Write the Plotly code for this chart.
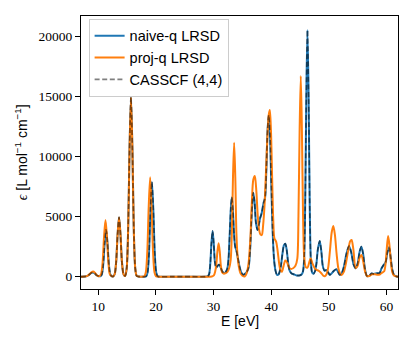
import plotly.graph_objects as go

# naive-q LRSD (blue)
naive_e = [
    7.0, 7.6, 8.0, 8.4, 8.8, 9.1, 9.4, 9.7, 10.0, 10.35, 10.6, 10.85, 11.1, 11.35, 11.6,
    11.85, 12.1, 12.35, 12.6, 12.85, 13.1, 13.35, 13.6, 13.85, 14.1, 14.35, 14.5, 14.67,
    14.92, 15.17, 15.42, 15.67, 15.92, 16.17, 16.42, 16.67, 17.0, 17.5, 18.0, 18.3, 18.55,
    18.8, 19.05, 19.3, 19.55, 19.8, 20.05, 20.3, 20.8, 23.0, 26.0, 28.6, 29.0, 29.23,
    29.43, 29.63, 29.83, 30.03, 30.23, 30.45, 30.7, 30.95, 31.2, 31.5, 31.8, 32.1, 32.4,
    32.6, 32.8, 33.0, 33.17, 33.35, 33.55, 33.75, 33.95, 34.2, 34.5, 34.8, 35.15, 35.5,
    35.8, 36.07, 36.35, 36.6, 36.87, 37.1, 37.35, 37.62, 37.85, 38.07, 38.35, 38.66,
    38.94, 39.15, 39.38, 39.58, 39.78, 40.0, 40.25, 40.5, 40.75, 41.0, 41.3, 41.65,
    41.95, 42.2, 42.45, 42.7, 42.95, 43.2, 43.5, 43.9, 44.4, 44.9, 45.3, 45.5, 45.69,
    45.89, 46.09, 46.29, 46.49, 46.69, 46.89, 47.1, 47.35, 47.6, 47.85, 48.1, 48.42,
    48.7, 48.95, 49.25, 49.58, 49.9, 50.16, 50.5, 50.9, 51.3, 51.6, 51.9, 52.25, 52.65,
    53.05, 53.5, 53.9, 54.3, 54.66, 55.0, 55.35, 55.65, 55.95, 56.25, 56.6, 57.0, 57.4,
    57.8, 58.3, 58.8, 59.15, 59.5, 59.85, 60.15, 60.45, 60.7, 61.0, 61.3, 61.7, 62.0,
]
naive_eps = [
    0, 5, 40, 160, 320, 350, 270, 120, 50, 30, 170, 970, 2760, 3900, 2760,
    970, 170, 30, 30, 220, 1230, 3500, 4950, 3500, 1230, 240, 100, 70,
    660, 3720, 10570, 14950, 10570, 3720, 660, 60, 5, 0, 0, 30, 350,
    1960, 5580, 7890, 5580, 1960, 350, 30, 0, 0, 0, 0, 30, 210,
    1060, 2770, 3810, 2770, 1250, 750, 900, 1000, 800, 450, 300, 380, 700,
    1500, 3500, 5700, 6620, 5600, 3600, 2500, 2200, 1600, 850, 350, 150, 260,
    430, 750, 2300, 5000, 7000, 6300, 4500, 3890, 4300, 4860, 5300, 6110,
    6600, 8800, 12300, 13475, 12000, 8000, 3800, 1400, 500, 150, 200, 800,
    1900, 2600, 2750, 2200, 1100, 500, 280, 200, 100, 100, 200, 400, 1250,
    5700, 14930, 20560, 14930, 5700, 1250, 350, 250, 450, 1100, 2300, 2975,
    2100, 900, 500, 560, 350, 150, 280, 500, 610, 400, 150, 300, 900,
    1900, 2560, 2000, 1000, 700, 1100, 2100, 2500, 1900, 700, 60, 60, 270,
    230, 280, 300, 700, 970, 1200, 2000, 2450, 1700, 600, 150, 20, 0,
]

# proj-q LRSD (orange)
proj_e = [
    7.0, 7.6, 8.0, 8.4, 8.8, 9.1, 9.4, 9.7, 10.0, 10.25, 10.5, 10.75, 11.0, 11.25, 11.5,
    11.75, 12.0, 12.3, 12.6, 12.85, 13.1, 13.35, 13.6, 13.85, 14.1, 14.35, 14.5, 14.67,
    14.92, 15.17, 15.42, 15.67, 15.92, 16.17, 16.42, 16.67, 17.0, 17.5, 18.0, 18.25,
    18.5, 18.75, 19.0, 19.25, 19.5, 19.75, 20.0, 20.5, 23.0, 26.0, 29.0, 29.7, 30.05,
    30.27, 30.47, 30.67, 30.87, 31.07, 31.27, 31.5, 31.8, 32.1, 32.4, 32.7, 32.97,
    33.17, 33.37, 33.57, 33.77, 33.97, 34.17, 34.4, 34.7, 35.0, 35.4, 35.75, 36.07,
    36.4, 36.65, 36.9, 37.16, 37.4, 37.65, 37.9, 38.15, 38.37, 38.6, 38.85, 39.1,
    39.35, 39.58, 39.76, 39.95, 40.15, 40.35, 40.55, 40.85, 41.1, 41.35, 41.6, 41.85,
    42.15, 42.45, 42.75, 43.05, 43.4, 43.8, 44.2, 44.53, 44.73, 44.93, 45.13, 45.33,
    45.53, 45.73, 46.0, 46.3, 46.6, 46.86, 47.15, 47.55, 47.85, 48.2, 48.7, 49.0, 49.3,
    49.6, 49.9, 50.2, 50.5, 50.78, 51.05, 51.35, 51.65, 51.95, 52.2, 52.6, 53.0, 53.4,
    53.7, 53.95, 54.25, 54.66, 55.0, 55.35, 55.65, 55.95, 56.3, 56.6, 57.0, 57.5, 58.0,
    58.5, 58.9, 59.3, 59.6, 59.85, 60.05, 60.28, 60.5, 60.75, 61.0, 61.3, 61.7, 62.0,
]
proj_eps = [
    0, 5, 40, 170, 360, 420, 330, 140, 40, 60, 230, 1180, 3340, 4725, 3340,
    1180, 210, 40, 30, 220, 1230, 3500, 4950, 3500, 1230, 240, 100, 70,
    660, 3720, 10570, 14950, 10570, 3720, 660, 60, 5, 0, 35, 365,
    2060, 5850, 8280, 5850, 2060, 365, 35, 0, 0, 0, 0, 5, 100,
    400, 1000, 2100, 2780, 2100, 900, 350, 250, 300, 400, 700, 1400,
    3600, 8300, 11170, 8300, 3500, 1700, 800, 250, 80, 10, 300, 1100,
    3300, 6300, 8100, 8390, 7300, 5200, 3900, 3500, 3470, 4300, 6000, 8800,
    11800, 13500, 13890, 12300, 8500, 4800, 3200, 2920, 2200, 1200, 550, 400,
    900, 1350, 1200, 800, 650, 700, 900, 1500, 5050, 12140, 16725, 12140,
    5000, 1600, 800, 750, 1200, 1530, 1100, 700, 560, 500, 280, 100, 30,
    200, 800, 2200, 3700, 4225, 3500, 1900, 700, 250, 140, 400, 1200, 2300,
    2950, 3060, 2300, 700, 900, 1600, 1800, 1300, 400, 50, 50, 200, 200,
    150, 200, 350, 450, 1100, 2300, 3390, 2700, 1300, 400, 100, 20, 0,
]

# CASSCF (4,4) reference sits on top of naive-q everywhere
cas_e = list(naive_e)
cas_eps = list(naive_eps)

x_ticks = [10, 20, 30, 40, 50, 60]
y_ticks = [0, 5000, 10000, 15000, 20000]

serif = "Liberation Serif"
sans = "Liberation Sans"

fig = go.Figure()
fig.add_trace(go.Scatter(x=naive_e, y=naive_eps, mode="lines", name="naive-q LRSD",
                         line=dict(color="#1f77b4", width=2, shape="spline", smoothing=0.8)))
fig.add_trace(go.Scatter(x=proj_e, y=proj_eps, mode="lines", name="proj-q LRSD",
                         line=dict(color="#ff7f0e", width=2, shape="spline", smoothing=0.8)))
fig.add_trace(go.Scatter(x=cas_e, y=cas_eps, mode="lines", name="CASSCF (4,4)",
                         line=dict(color="rgba(0,0,0,0.5)", width=1.6, dash="5px,2.6px",
                                   shape="spline", smoothing=0.8)))

axis_common = dict(
    showgrid=False, zeroline=False, automargin=False,
    showline=True, linecolor="black", linewidth=1, mirror=True,
    ticks="outside", ticklen=5, tickwidth=1, tickcolor="black",
    tickfont=dict(family=serif, size=13.5, color="black"),
)

fig.update_xaxes(range=[7, 62], tickvals=x_ticks, ticktext=[str(v) for v in x_ticks],
                 **axis_common)
fig.update_yaxes(range=[-1030, 21730], tickvals=y_ticks, ticktext=[str(v) for v in y_ticks],
                 **axis_common)

# axis titles as annotations so they can be placed where matplotlib put them
fig.add_annotation(text="E [eV]", xref="paper", yref="paper", x=0.5, y=-0.117,
                   xanchor="center", yanchor="middle", showarrow=False,
                   font=dict(family=sans, size=14))
fig.add_annotation(text='<span style="font-family:Liberation Serif"><i>ϵ</i></span>'
                        ' [L mol<sup>−1</sup> cm<sup>−1</sup>]',
                   xref="paper", yref="paper", x=-0.19, y=0.5, textangle=-90,
                   xanchor="center", yanchor="middle", showarrow=False,
                   font=dict(family=sans, size=14))

fig.update_layout(
    width=415, height=346,
    margin=dict(l=81, r=17, t=16, b=57),
    paper_bgcolor="white", plot_bgcolor="white",
    font=dict(family=sans, size=14, color="black"),
    legend=dict(x=0.024, y=0.99, xanchor="left", yanchor="top",
                bgcolor="rgba(255,255,255,0.8)", bordercolor="#cccccc", borderwidth=1,
                font=dict(family=sans, size=14.5), tracegroupgap=0),
    showlegend=True,
)

# page body has a default 8px margin, drop it so the figure sits at (0, 0)
fig.write_html("out.html", config={"displayModeBar": False},
               post_script="document.body.style.margin='0';")
